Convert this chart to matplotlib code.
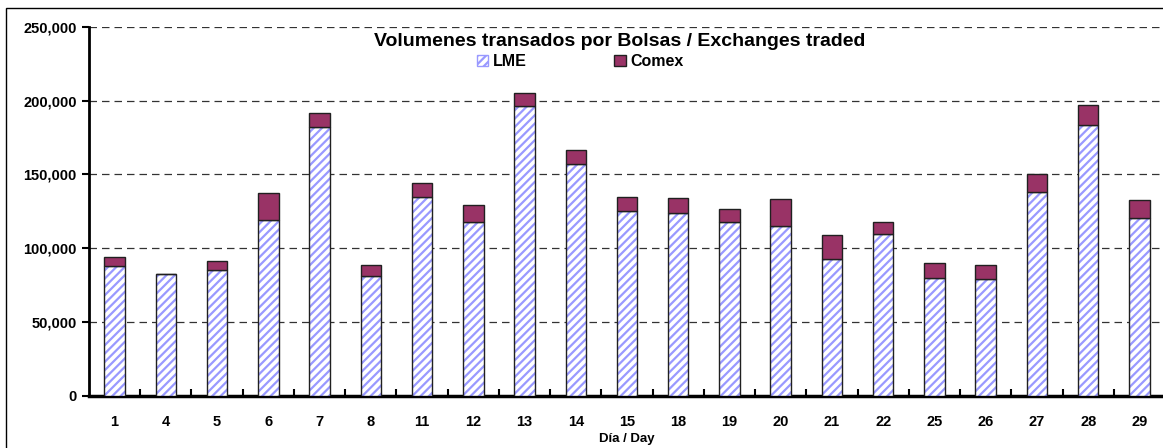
import matplotlib
matplotlib.use("Agg")
import matplotlib.pyplot as plt
import numpy as np
from matplotlib.patches import Patch, Rectangle
from matplotlib.ticker import FuncFormatter

days = ["1", "4", "5", "6", "7", "8", "11", "12", "13", "14", "15",
        "18", "19", "20", "21", "22", "25", "26", "27", "28", "29"]
lme = [88000, 82200, 85000, 119000, 182400, 80900, 134400, 117900, 196400, 156800, 125000,
       123600, 117500, 115000, 92600, 109600, 79700, 79000, 138300, 183700, 120600]
total = [94200, 82200, 91000, 137200, 191400, 88700, 144400, 129000, 205000, 166800, 134900,
         133800, 126500, 133100, 108700, 117500, 89700, 88300, 150500, 196900, 132400]
comex = [t - l for t, l in zip(total, lme)]

plt.rcParams['font.family'] = ['Liberation Sans', 'DejaVu Sans']
plt.rcParams['font.weight'] = 'bold'
plt.rcParams['hatch.linewidth'] = 1.6

fig = plt.figure(figsize=(11.63, 4.48), dpi=100)
ax = fig.add_axes([89 / 1163, 52.5 / 448, 1076 / 1163, 368.5 / 448])

# outer chart frame
fig.patches.append(Rectangle((6 / 1163, -0.02), 1.1, 440 / 448 + 0.02, transform=fig.transFigure,
                             fill=False, edgecolor='black', linewidth=1.0, zorder=0))

x = np.arange(len(days))
w = 0.4
ax.bar(x, lme, w, color='white', edgecolor='#9999FF', hatch='////', linewidth=0, zorder=3)
ax.bar(x, lme, w, fill=False, edgecolor='#202020', linewidth=1.0, zorder=4)
ax.bar(x, comex, w, bottom=lme, color='#993366', edgecolor='#202020', linewidth=1.0, zorder=4)

ax.set_xlim(-0.5, len(days) - 0.5)
ax.set_ylim(0, 250000)
ax.set_yticks(np.arange(0, 250001, 50000))
ax.yaxis.set_major_formatter(FuncFormatter(lambda v, p: f"{int(v):,}"))
ax.yaxis.grid(True, linestyle=(0, (6, 4)), color='#333333', linewidth=0.9)
ax.set_axisbelow(True)

ax.set_xticks(x)
ax.set_xticklabels(days)
ax.set_xticks(np.arange(0.5, len(days), 1), minor=True)
ax.tick_params(axis='x', which='major', length=0, pad=14)
ax.tick_params(axis='x', which='minor', length=5, width=1.5, direction='in')
ax.tick_params(axis='y', length=5, width=1.5, direction='out', pad=4)
for lbl in ax.get_xticklabels() + ax.get_yticklabels():
    lbl.set_fontweight('bold')
    lbl.set_fontsize(10.5)

for s in ['top', 'right']:
    ax.spines[s].set_visible(False)
ax.spines['left'].set_linewidth(2)
ax.spines['bottom'].set_linewidth(2.5)

ax.set_xlabel("Día / Day", fontsize=9.5, fontweight='bold', labelpad=3)

fig.text(0.533, 0.908, "Volumenes transados por Bolsas / Exchanges traded",
         ha='center', va='center', fontsize=14, fontweight='bold')
handles = [Patch(facecolor='white', edgecolor='#9999FF', hatch='////', label='LME'),
           Patch(facecolor='#993366', edgecolor='#202020', label='Comex')]
leg = fig.legend(handles=handles, loc='center', bbox_to_anchor=(0.4988, 0.862), ncol=2,
                 frameon=False, prop={'size': 11.5, 'weight': 'bold'}, handlelength=0.7,
                 handleheight=0.7, handletextpad=0.3, columnspacing=5.5)

fig.savefig("out.png", dpi=100)
